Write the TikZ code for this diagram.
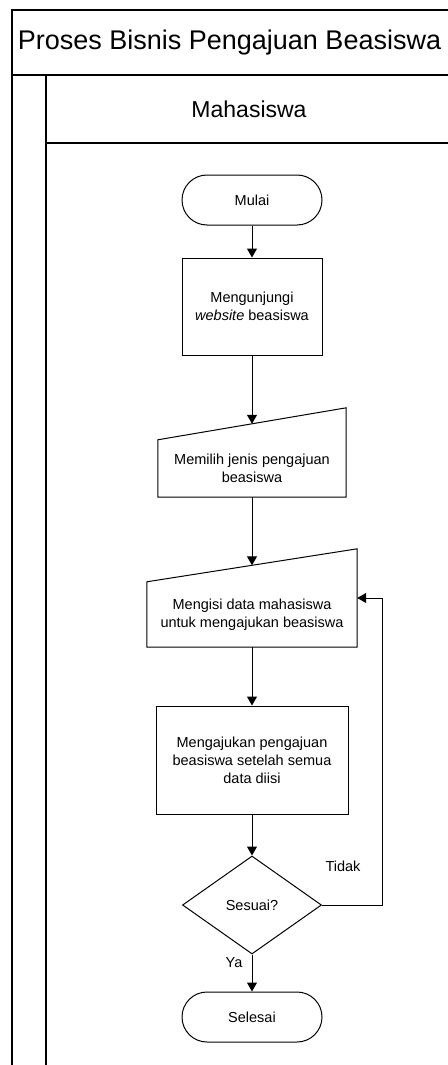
\documentclass[tikz,border=0pt]{standalone}
\usepackage{fontspec}
\setmainfont{Liberation Sans}
\usepackage{tikz}
\usetikzlibrary{arrows.meta,calc,shapes.geometric}

\begin{document}
\begin{tikzpicture}[x=1pt,y=-1pt,
    every node/.style={font=\fontsize{14.5}{18}\selectfont, align=center, inner sep=0pt},
    terminal/.style={draw, line width=1pt, rounded corners=25pt, minimum width=140pt, minimum height=50pt},
    proses/.style={draw, line width=1pt, rectangle},
    masukan/.style={rectangle},
    keputusan/.style={draw, line width=1pt, diamond, minimum width=139pt, minimum height=98pt},
    garis/.style={line width=1.3pt},
    >={Triangle[width=10pt,length=9pt]}]
      \useasboundingbox (0,0) rectangle (447,1065);

      % kolam dan lajur
      \draw[garis] (12,1075) -- (12,10) -- (455,10);
      \draw[garis] (12,75) -- (455,75);
      \draw[garis] (46,1075) -- (46,75);
      \draw[garis] (46,143) -- (455,143);
      \node(judul) at (229.5,42.5) {\fontsize{27}{30}\selectfont Proses Bisnis Pengajuan Beasiswa};
      \node(lajur) at (249,109) {\fontsize{23}{26}\selectfont Mahasiswa};

      % simbol alur
      \node[terminal] (mulai) at (252,200) {Mulai};
      \node[proses, minimum width=140pt, minimum height=97pt] (web) at (252,306.5) {Mengunjungi\\\textit{website} beasiswa};
      \node[masukan, minimum width=188pt, minimum height=57pt] (memilih) at (252,468.5) {Memilih jenis pengajuan\\beasiswa};
      \node[masukan, minimum width=210pt, minimum height=65pt] (mengisi) at (252,614.5) {Mengisi data mahasiswa\\untuk mengajukan beasiswa};
      \node[proses, minimum width=192pt, minimum height=108pt] (ajukan) at (252,760) {Mengajukan pengajuan\\beasiswa setelah semua\\data diisi};
      \node[keputusan] (sesuai) at (252,905) {Sesuai?};
      \node[terminal] (selesai) at (252,1017) {Selesai};

      \draw[line width=1pt] (memilih.south west) -- (memilih.south east) -- ($(memilih.north east)+(0,-32)$) -- (memilih.north west) -- cycle;
      \draw[line width=1pt] (mengisi.south west) -- (mengisi.south east) -- ($(mengisi.north east)+(0,-33)$) -- (mengisi.north west) -- cycle;
      \coordinate (memilih-atas) at ($(memilih.north)+(0,-16)$);
      \coordinate (mengisi-atas) at ($(mengisi.north)+(0,-16.5)$);
      \coordinate (mengisi-kanan) at ($(mengisi.east)+(0,-16.5)$);

      % panah
      \draw[->, line width=1pt] (mulai) -- (web);
      \draw[->, line width=1pt] (web) -- (memilih-atas);
      \draw[->, line width=1pt] (memilih) -- (mengisi-atas);
      \draw[->, line width=1pt] (mengisi) -- (ajukan);
      \draw[->, line width=1pt] (ajukan) -- (sesuai);
      \draw[->, line width=1pt] (sesuai) -- (selesai);
      \draw[->, line width=1pt] (sesuai.east) -| ($(mengisi-kanan)+(25,0)$) -- (mengisi-kanan);

      \node(tidak) at (343,866) {Tidak};
      \node(ya) at (234,963) {Ya};
    \end{tikzpicture}
\end{document}
